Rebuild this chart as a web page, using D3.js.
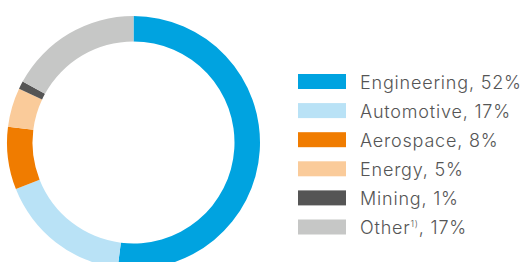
<!DOCTYPE html>
<html>
<head>
<meta charset="utf-8">
<script src="https://d3js.org/d3.v7.min.js"></script>
<style>
  body { margin: 0; background: #fff; }
  svg text { font-family: Inter, "Open Sans", sans-serif; font-weight: 300; letter-spacing: 0.8px; }
</style>
</head>
<body>
<script>
  // segment data, clockwise from 12 o'clock
  var names = ["Engineering", "Automotive", "Aerospace", "Energy", "Mining", "Other"];
  var shares = [52, 17, 8, 5, 1, 17];
  var notes = ["", "", "", "", "", "1)"];
  var colors = ["#00a3e0", "#b9e2f6", "#f07c00", "#facb9a", "#555555", "#c6c7c6"];

  var width = 523, height = 262;
  var svg = d3.select("body").append("svg")
      .attr("width", width)
      .attr("height", height);

  // donut
  var cx = 133.5, cy = 142.5, outer = 126.5, inner = 101;
  var pie = d3.pie().sort(null).value(function(d) { return d; });
  var arc = d3.arc().innerRadius(inner).outerRadius(outer);

  svg.append("g")
      .attr("transform", "translate(" + cx + "," + cy + ")")
    .selectAll("path")
    .data(pie(shares))
    .join("path")
      .attr("d", arc)
      .attr("fill", function(d, i) { return colors[i]; });

  // legend
  var rowY = d3.scaleLinear().domain([0, 5]).range([74, 219.5]);
  var legend = svg.append("g");
  var rows = legend.selectAll("g")
    .data(names)
    .join("g")
      .attr("transform", function(d, i) { return "translate(298," + rowY(i) + ")"; });

  rows.append("rect")
      .attr("width", 48)
      .attr("height", 15)
      .attr("fill", function(d, i) { return colors[i]; });

  var label = rows.append("text")
      .attr("x", 62)
      .attr("y", 14.5)
      .attr("font-size", 18)
      .attr("fill", "#555");
  label.append("tspan").text(function(d) { return d; });
  label.append("tspan")
      .attr("font-size", 9)
      .attr("dy", -7)
      .text(function(d, i) { return notes[i]; });
  label.append("tspan")
      .attr("dy", function(d, i) { return notes[i] ? 7 : 0; })
      .text(function(d, i) { return ", " + shares[i] + "%"; });
</script>
</body>
</html>
